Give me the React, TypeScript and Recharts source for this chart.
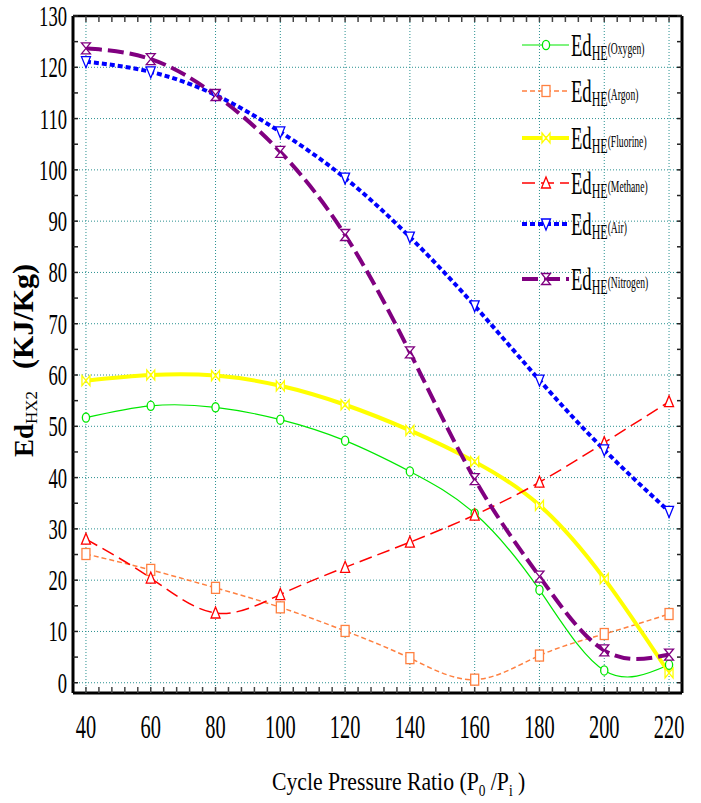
import { LineChart, Line, XAxis, YAxis, CartesianGrid, Legend } from 'recharts'

const pressureRatio = [40, 60, 80, 100, 120, 140, 160, 180, 200, 220]
const oxygen = [51.7, 54.0, 53.7, 51.3, 47.2, 41.2, 33.0, 18.1, 2.4, 3.5]
const argon = [25.1, 22.0, 18.5, 14.7, 10.1, 4.8, 0.6, 5.3, 9.5, 13.4]
const fluorine = [58.9, 60.0, 59.9, 57.9, 54.2, 49.2, 43.1, 34.6, 20.3, 1.9]
const methane = [28.0, 20.4, 13.6, 17.2, 22.5, 27.4, 32.7, 39.1, 46.8, 54.8]
const air = [121.1, 119.1, 114.6, 107.4, 98.4, 86.9, 73.5, 59.0, 45.4, 33.4]
const nitrogen = [123.7, 121.6, 114.6, 103.5, 87.3, 64.4, 39.7, 20.7, 6.3, 5.5]

const xTicks = [40, 60, 80, 100, 120, 140, 160, 180, 200, 220]
const yTicks = [0, 10, 20, 30, 40, 50, 60, 70, 80, 90, 100, 110, 120, 130]
const xMinorTicks = Array.from({ length: 46 }, (_, i) => 40 + i * 4)
const yMinorTicks = Array.from({ length: 27 }, (_, i) => i * 5)

const X_DOMAIN: [number, number] = [36, 224]
const Y_DOMAIN: [number, number] = [-2, 130]
const FONT = '"Liberation Serif", "Times New Roman", serif'

type Shape = 'circle' | 'square' | 'bowtie' | 'triUp' | 'triDown' | 'hourglass'

const series: { key: string; name: string; color: string; width: number; dash?: string; shape: Shape }[] = [
    { key: 'oxygen', name: 'Oxygen', color: '#00e800', width: 1.2, shape: 'circle' },
    { key: 'argon', name: 'Argon', color: '#ff8040', width: 1.5, dash: '5 3', shape: 'square' },
    { key: 'fluorine', name: 'Fluorine', color: '#ffff00', width: 4, shape: 'bowtie' },
    { key: 'methane', name: 'Methane', color: '#ff0000', width: 1.5, dash: '13 6', shape: 'triUp' },
    { key: 'air', name: 'Air', color: '#0000ff', width: 4, dash: '5 3', shape: 'triDown' },
    { key: 'nitrogen', name: 'Nitrogen', color: '#800080', width: 4, dash: '16 6', shape: 'hourglass' },
]

const data = pressureRatio.map((p, i) => ({
    p,
    oxygen: oxygen[i],
    argon: argon[i],
    fluorine: fluorine[i],
    methane: methane[i],
    air: air[i],
    nitrogen: nitrogen[i],
}))

function Marker({ shape, x, y, color }: { shape: Shape; x: number; y: number; color: string }) {
    const common = { stroke: color, strokeWidth: 1.3, fill: '#fff' }
    switch (shape) {
        case 'circle':
            return <ellipse cx={x} cy={y} rx={3.6} ry={4.6} {...common} />
        case 'square':
            return <rect x={x - 4} y={y - 5.5} width={8} height={11} {...common} />
        case 'bowtie':
            return <path d={`M${x - 4},${y - 5}L${x + 4},${y + 5}L${x + 4},${y - 5}L${x - 4},${y + 5}Z`} {...common} />
        case 'triUp':
            return <path d={`M${x},${y - 6}L${x + 4.5},${y + 5}L${x - 4.5},${y + 5}Z`} {...common} />
        case 'triDown':
            return <path d={`M${x},${y + 6}L${x + 4.5},${y - 5}L${x - 4.5},${y - 5}Z`} {...common} />
        default:
            return <path d={`M${x - 4.5},${y - 5.5}L${x + 4.5},${y - 5.5}L${x - 4.5},${y + 5.5}L${x + 4.5},${y + 5.5}Z`} {...common} />
    }
}

const dotFor = (shape: Shape, color: string) => (props: any) => (
    <g key={`dot-${shape}-${props.index}`}>
        <Marker shape={shape} x={props.cx} y={props.cy} color={color} />
    </g>
)

function XTick({ x, y, payload }: any) {
    return (
        <g transform={`translate(${x},${y + 45}) scale(0.6,1)`}>
            <text textAnchor="middle" fontSize={34} fontFamily={FONT} fill="#000">{payload.value}</text>
        </g>
    )
}

function YTick({ x, y, payload }: any) {
    return (
        <g transform={`translate(${x - 6},${y + 10}) scale(0.62,1)`}>
            <text textAnchor="end" fontSize={30} fontFamily={FONT} fill="#000">{payload.value}</text>
        </g>
    )
}

const noLabel = () => <g />

// legend rows and titles drawn in one overlay svg
const legendRows = [45, 91, 138, 183, 224, 279]

function Overlay() {
    return (
        <svg width={701} height={803} style={{ position: 'absolute', left: 0, top: 0 }}>
            {series.map((s, i) => {
                const y = legendRows[i]
                return (
                    <g key={s.key}>
                        <line x1={522} x2={569} y1={y} y2={y} stroke={s.color} strokeWidth={s.width} strokeDasharray={s.dash} />
                        <Marker shape={s.shape} x={546} y={y} color={s.color} />
                        <g transform={`translate(571,${y + 11}) scale(0.6,1)`}>
                            <text fontFamily={FONT} fill="#000">
                                <tspan fontSize={31}>Ed</tspan>
                                <tspan fontSize={20} dy={4}>HE</tspan>
                                <tspan fontSize={16} dy={-6}>({s.name})</tspan>
                            </text>
                        </g>
                    </g>
                )
            })}
            <g transform="translate(272,790) scale(0.835,1)">
                <text fontFamily={FONT} fontSize={26} fill="#000">
                    Cycle Pressure Ratio (P<tspan fontSize={16} dy={6}>0</tspan>
                    <tspan dy={-6}> /P</tspan>
                    <tspan fontSize={16} dy={6}>i</tspan>
                    <tspan dy={-6}> )</tspan>
                </text>
            </g>
            <g transform="translate(33,457) rotate(-90)">
                <text fontFamily={FONT} fill="#000" fontWeight="bold">
                    <tspan fontSize={27}>Ed</tspan>
                    <tspan fontSize={17} fontWeight="normal" dy={4}>HX2</tspan>
                    <tspan fontSize={30} dx={22} dy={-4}>(KJ/Kg)</tspan>
                </text>
            </g>
        </svg>
    )
}

export default function App() {
    return (
        <div style={{ position: 'absolute', left: 0, top: 0, width: 701, height: 803, background: '#fff' }}>
            <LineChart width={701} height={803} data={data} margin={{ top: 16, right: 19, bottom: 0, left: 0 }}>
                <CartesianGrid stroke="#2a9090" strokeDasharray="1 2" strokeWidth={1} />
                <XAxis
                    dataKey="p"
                    type="number"
                    domain={X_DOMAIN}
                    ticks={xTicks}
                    interval={0}
                    allowDataOverflow
                    height={110}
                    tickSize={0}
                    tickMargin={0}
                    tickLine={false}
                    axisLine={{ stroke: '#000', strokeWidth: 3 }}
                    tick={<XTick />}
                />
                <XAxis xAxisId="bottomTicks" dataKey="p" type="number" domain={X_DOMAIN} ticks={xMinorTicks} interval={0} allowDataOverflow
                    mirror orientation="bottom" axisLine={false} tickSize={6} tickLine={{ stroke: '#444', strokeWidth: 1.5 }} tick={noLabel} />
                <XAxis xAxisId="topTicks" dataKey="p" type="number" domain={X_DOMAIN} ticks={xMinorTicks} interval={0} allowDataOverflow
                    mirror orientation="top" axisLine={{ stroke: '#000', strokeWidth: 2.5 }} tickSize={6} tickLine={{ stroke: '#444', strokeWidth: 1.5 }} tick={noLabel} />
                <YAxis
                    type="number"
                    domain={Y_DOMAIN}
                    ticks={yTicks}
                    interval={0}
                    allowDataOverflow
                    width={73}
                    tickSize={0}
                    tickMargin={0}
                    tickLine={false}
                    axisLine={{ stroke: '#000', strokeWidth: 3 }}
                    tick={<YTick />}
                />
                <YAxis yAxisId="leftTicks" type="number" domain={Y_DOMAIN} ticks={yMinorTicks} interval={0} allowDataOverflow
                    mirror orientation="left" axisLine={false} tickSize={5} tickLine={{ stroke: '#222', strokeWidth: 1.5 }} tick={noLabel} />
                <YAxis yAxisId="rightTicks" type="number" domain={Y_DOMAIN} ticks={yMinorTicks} interval={0} allowDataOverflow
                    mirror orientation="right" axisLine={{ stroke: '#000', strokeWidth: 3 }} tickSize={5} tickLine={{ stroke: '#222', strokeWidth: 1.5 }} tick={noLabel} />
                {series.map(s => (
                    <Line
                        key={s.key}
                        type="natural"
                        dataKey={s.key}
                        name={s.name}
                        stroke={s.color}
                        strokeWidth={s.width}
                        strokeDasharray={s.dash}
                        dot={dotFor(s.shape, s.color)}
                        activeDot={false}
                        isAnimationActive={false}
                    />
                ))}
                <Legend
                    layout="horizontal"
                    verticalAlign="middle"
                    align="center"
                    wrapperStyle={{ left: 0, top: 0, width: 701, height: 803, pointerEvents: 'none' }}
                    content={() => <Overlay />}
                />
            </LineChart>
        </div>
    )
}
